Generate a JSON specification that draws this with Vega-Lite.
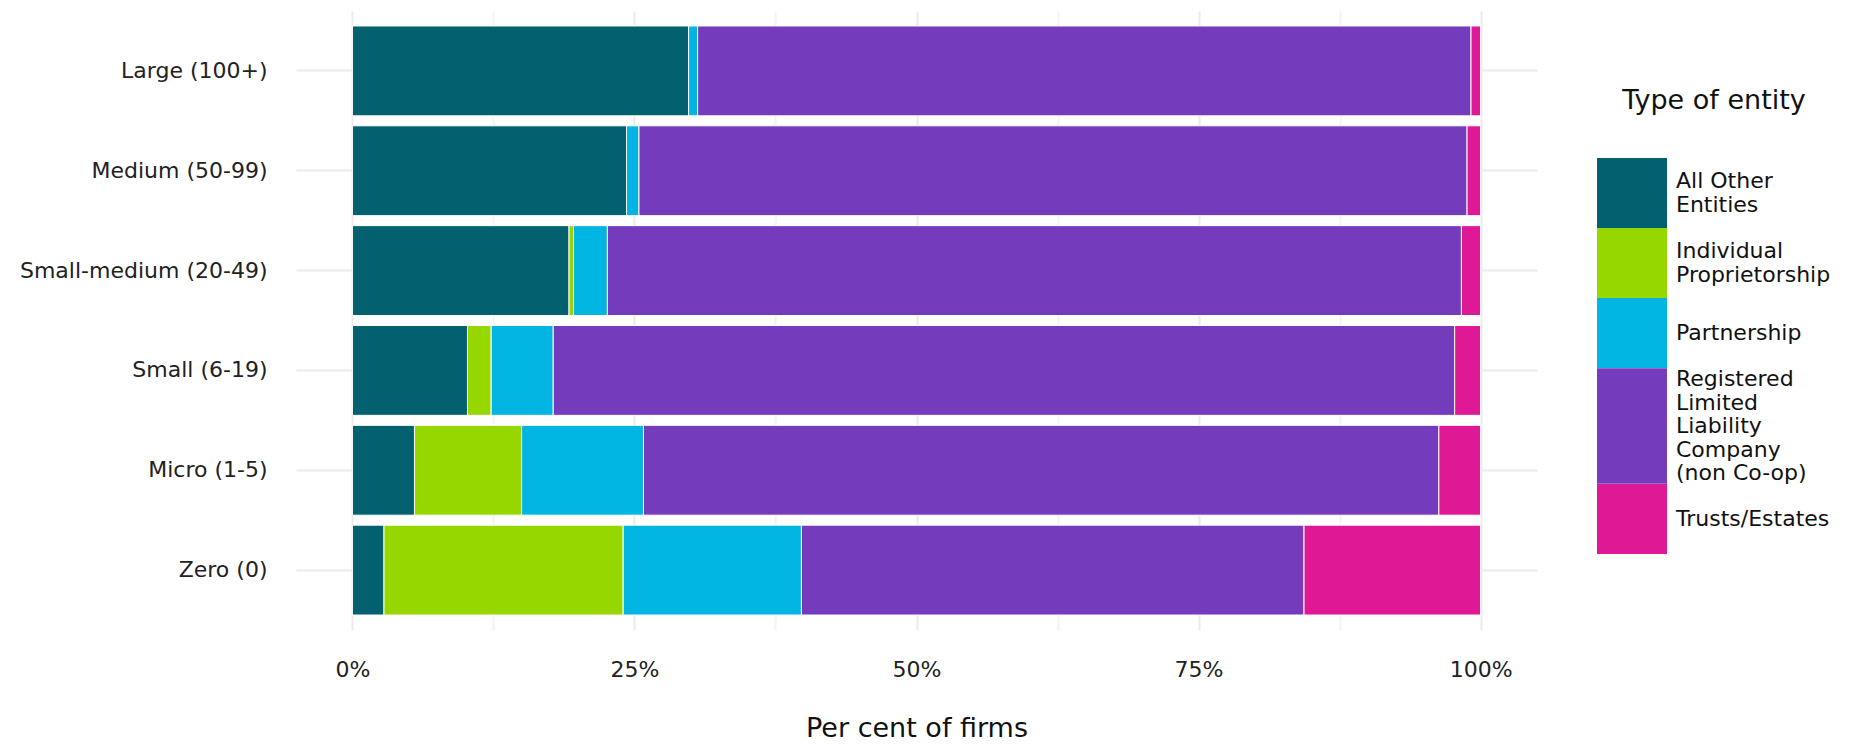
{
  "$schema": "https://vega.github.io/schema/vega-lite/v6.json",
  "width": 1241,
  "height": 619,
  "autosize": {"type": "pad"},
  "padding": {"left": 0, "top": 11, "right": 0, "bottom": 0},
  "config": {"view": {"stroke": null}, "font": "DejaVu Sans"},
  "data": {
    "values": [
      {"size": "Large (100+)", "type": "All Other Entities", "pct": 29.8},
      {"size": "Large (100+)", "type": "Individual Proprietorship", "pct": 0},
      {"size": "Large (100+)", "type": "Partnership", "pct": 0.8},
      {"size": "Large (100+)", "type": "Registered Limited Liability Company (non Co-op)", "pct": 68.55},
      {"size": "Large (100+)", "type": "Trusts/Estates", "pct": 0.85},
      {"size": "Medium (50-99)", "type": "All Other Entities", "pct": 24.3},
      {"size": "Medium (50-99)", "type": "Individual Proprietorship", "pct": 0},
      {"size": "Medium (50-99)", "type": "Partnership", "pct": 1.1},
      {"size": "Medium (50-99)", "type": "Registered Limited Liability Company (non Co-op)", "pct": 73.4},
      {"size": "Medium (50-99)", "type": "Trusts/Estates", "pct": 1.2},
      {"size": "Small-medium (20-49)", "type": "All Other Entities", "pct": 19.2},
      {"size": "Small-medium (20-49)", "type": "Individual Proprietorship", "pct": 0.4},
      {"size": "Small-medium (20-49)", "type": "Partnership", "pct": 3.0},
      {"size": "Small-medium (20-49)", "type": "Registered Limited Liability Company (non Co-op)", "pct": 75.7},
      {"size": "Small-medium (20-49)", "type": "Trusts/Estates", "pct": 1.7},
      {"size": "Small (6-19)", "type": "All Other Entities", "pct": 10.2},
      {"size": "Small (6-19)", "type": "Individual Proprietorship", "pct": 2.1},
      {"size": "Small (6-19)", "type": "Partnership", "pct": 5.5},
      {"size": "Small (6-19)", "type": "Registered Limited Liability Company (non Co-op)", "pct": 79.9},
      {"size": "Small (6-19)", "type": "Trusts/Estates", "pct": 2.3},
      {"size": "Micro (1-5)", "type": "All Other Entities", "pct": 5.5},
      {"size": "Micro (1-5)", "type": "Individual Proprietorship", "pct": 9.5},
      {"size": "Micro (1-5)", "type": "Partnership", "pct": 10.8},
      {"size": "Micro (1-5)", "type": "Registered Limited Liability Company (non Co-op)", "pct": 70.5},
      {"size": "Micro (1-5)", "type": "Trusts/Estates", "pct": 3.7},
      {"size": "Zero (0)", "type": "All Other Entities", "pct": 2.8},
      {"size": "Zero (0)", "type": "Individual Proprietorship", "pct": 21.2},
      {"size": "Zero (0)", "type": "Partnership", "pct": 15.8},
      {"size": "Zero (0)", "type": "Registered Limited Liability Company (non Co-op)", "pct": 44.55},
      {"size": "Zero (0)", "type": "Trusts/Estates", "pct": 15.65}
    ]
  },
  "encoding": {
    "y": {
      "field": "size",
      "type": "nominal",
      "sort": ["Large (100+)", "Medium (50-99)", "Small-medium (20-49)", "Small (6-19)", "Micro (1-5)", "Zero (0)"],
      "scale": {"paddingInner": 0.1, "paddingOuter": 0.15},
      "axis": {
        "title": null,
        "domain": false,
        "ticks": false,
        "tickSize": 0,
        "labelFontSize": 22,
        "labelPadding": 29,
        "labelLimit": 400,
        "labelColor": "#222222",
        "grid": true,
        "gridColor": "#EBEBEB",
        "gridWidth": 2,
        "minExtent": 296,
        "maxExtent": 296
      }
    }
  },
  "layer": [
    {
      "mark": {"type": "bar", "opacity": 0},
      "encoding": {
        "x": {
          "field": "pct",
          "type": "quantitative",
          "stack": "normalize",
          "scale": {"domain": [-0.05, 1.05], "nice": false, "zero": false},
          "axis": {
            "orient": "top",
            "values": [0.125, 0.375, 0.625, 0.875],
            "labels": false,
            "ticks": false,
            "domain": false,
            "title": null,
            "grid": true,
            "gridColor": "#F4F4F4",
            "gridWidth": 2,
            "minExtent": 0,
            "maxExtent": 0
          }
        },
        "detail": {"field": "type"}
      }
    },
    {
      "mark": {"type": "bar", "stroke": "white", "strokeWidth": 1},
      "encoding": {
        "x": {
          "field": "pct",
          "type": "quantitative",
          "stack": "normalize",
          "scale": {"domain": [-0.05, 1.05], "nice": false, "zero": false},
          "axis": {
            "values": [0, 0.25, 0.5, 0.75, 1],
            "format": ".0%",
            "domain": false,
            "ticks": false,
            "tickSize": 0,
            "labelFlush": false,
            "labelFontSize": 22,
            "labelPadding": 29,
            "labelColor": "#222222",
            "grid": true,
            "gridColor": "#EBEBEB",
            "gridWidth": 2,
            "title": "Per cent of firms",
            "titleFontSize": 27,
            "titleFontWeight": "normal",
            "titleColor": "#111111",
            "titlePadding": 35
          }
        },
        "color": {
          "field": "type",
          "type": "nominal",
          "scale": {
            "domain": ["All Other Entities", "Individual Proprietorship", "Partnership", "Registered Limited Liability Company (non Co-op)", "Trusts/Estates"],
            "range": ["#02606F", "#97D700", "#00B5E2", "#753BBD", "#DF1995"]
          },
          "legend": {
            "orient": "none",
            "legendX": 1301,
            "legendY": 77,
            "title": "Type of entity",
            "titleFontSize": 27,
            "titleFontWeight": "normal",
            "titleColor": "#111111",
            "titleAnchor": "middle",
            "titleLimit": 500,
            "titlePadding": 43,
            "symbolType": "square",
            "symbolSize": 4900,
            "symbolStrokeWidth": 0,
            "symbolOpacity": 1,
            "labelFontSize": 22,
            "labelColor": "#111111",
            "labelOffset": 9,
            "labelLimit": 400,
            "rowPadding": 0,
            "padding": 0,
            "labelExpr": "datum.label == 'All Other Entities' ? ['All Other', 'Entities'] : datum.label == 'Individual Proprietorship' ? ['Individual', 'Proprietorship'] : datum.label == 'Registered Limited Liability Company (non Co-op)' ? ['Registered', 'Limited', 'Liability', 'Company', '(non Co-op)'] : datum.label",
            "encoding": {
              "symbols": {
                "shape": {"value": {"expr": "datum.value == 'Registered Limited Liability Company (non Co-op)' ? 'M-1,-1.65H1V1.65H-1Z' : 'M-1,-1H1V1H-1Z'"}}
              },
              "labels": {
                "lineHeight": {"value": 23.5},
                "dy": {"value": {"expr": "datum.value == 'Registered Limited Liability Company (non Co-op)' ? -47 : (datum.value == 'All Other Entities' || datum.value == 'Individual Proprietorship') ? -11.75 : 0"}}
              }
            }
          }
        }
      }
    }
  ],
  "resolve": {"axis": {"x": "independent"}}
}
